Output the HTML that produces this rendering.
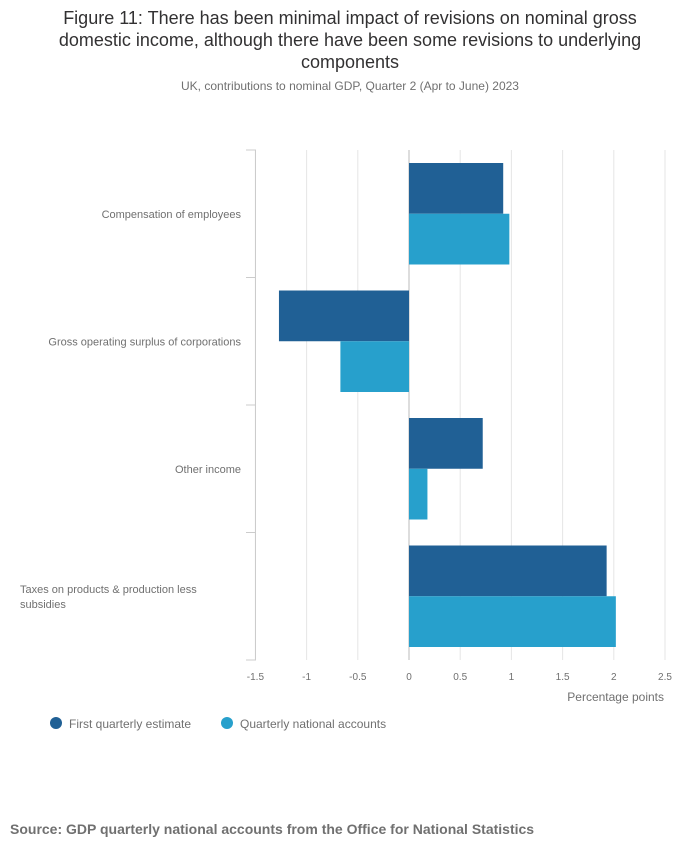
<!DOCTYPE html>
<html><head><meta charset="utf-8"><style>
body{margin:0;background:#fff;font-family:"Liberation Sans",sans-serif;}
</style></head><body>
<svg width="700" height="857" xmlns="http://www.w3.org/2000/svg" style="font-family:'Liberation Sans',sans-serif">
<text x="350" y="24" text-anchor="middle" font-size="18" fill="#323132">Figure 11: There has been minimal impact of revisions on nominal gross</text>
<text x="350" y="46" text-anchor="middle" font-size="18" fill="#323132">domestic income, although there have been some revisions to underlying</text>
<text x="350" y="68" text-anchor="middle" font-size="18" fill="#323132">components</text>
<text x="350" y="90" text-anchor="middle" font-size="12" fill="#707070">UK, contributions to nominal GDP, Quarter 2 (Apr to June) 2023</text>
<g id="plot"></g>
<text x="664" y="701" text-anchor="end" font-size="12" fill="#707070">Percentage points</text>
<g>
<circle cx="56" cy="723" r="6" fill="#206095"/>
<text x="69" y="728" font-size="12" fill="#707070">First quarterly estimate</text>
<circle cx="227" cy="723" r="6" fill="#27a0cc"/>
<text x="240" y="728" font-size="12" fill="#707070">Quarterly national accounts</text>
</g>
<text x="10" y="834" font-size="14" font-weight="bold" fill="#707070">Source: GDP quarterly national accounts from the Office for National Statistics</text>
</svg>
<script>
const categories=[["Compensation of employees"],["Gross operating surplus of corporations"],["Other income"],["Taxes on products & production less","subsidies"]];
const firstEstimate=[0.92,-1.27,0.72,1.93];
const qna=[0.98,-0.67,0.18,2.02];
const ticks=[-1.5,-1,-0.5,0,0.5,1,1.5,2,2.5];
const tickLabels=["-1.5","-1","-0.5","0","0.5","1","1.5","2","2.5"];
const NS="http://www.w3.org/2000/svg";
const g=document.getElementById('plot');
const plotTop=150,plotBottom=660;
const xs=v=>409+v*102.4;
const band=(plotBottom-plotTop)/categories.length;
function mk(t,a){const e=document.createElementNS(NS,t);for(const k in a)e.setAttribute(k,a[k]);g.appendChild(e);return e;}
ticks.forEach((t,i)=>{
 const l=mk('line',{x1:xs(t),x2:xs(t),y1:plotTop,y2:plotBottom,stroke:t===0?'#bbb':'#e5e5e5','stroke-width':1});
 
 
 const tx=mk('text',{x:xs(t),y:680,'text-anchor':'middle','font-size':10,fill:'#707070'});
 tx.textContent=tickLabels[i];
 
 
});
const ax=mk('line',{x1:255.5,x2:255.5,y1:plotTop,y2:plotBottom,stroke:'#ccc'});


for(let i=0;i<=categories.length;i++){
 const tk=mk('line',{x1:246,x2:256,y1:plotTop+i*band,y2:plotTop+i*band,stroke:'#ccc'});
 
 
}
const pad=13,bh=(band-2*pad)/2;
categories.forEach((c,i)=>{
 const y0=plotTop+i*band;
 [[firstEstimate,'#206095'],[qna,'#27a0cc']].forEach(([s,col],j)=>{
  const v=s[i];
  const r=mk('rect',{x:Math.min(xs(0),xs(v)),y:y0+pad+j*bh,width:Math.abs(xs(v)-xs(0)),height:bh,fill:col});
  
  
 });
 const cy=y0+band/2;
 c.forEach((ln,k)=>{
  const t=mk('text',{x:c.length>1?20:241,y:cy+4+(k-(c.length-1)/2)*15,'text-anchor':c.length>1?'start':'end','font-size':11,fill:'#707070'});
  t.textContent=ln;
  
  
 });
});
</script>
</body></html>
